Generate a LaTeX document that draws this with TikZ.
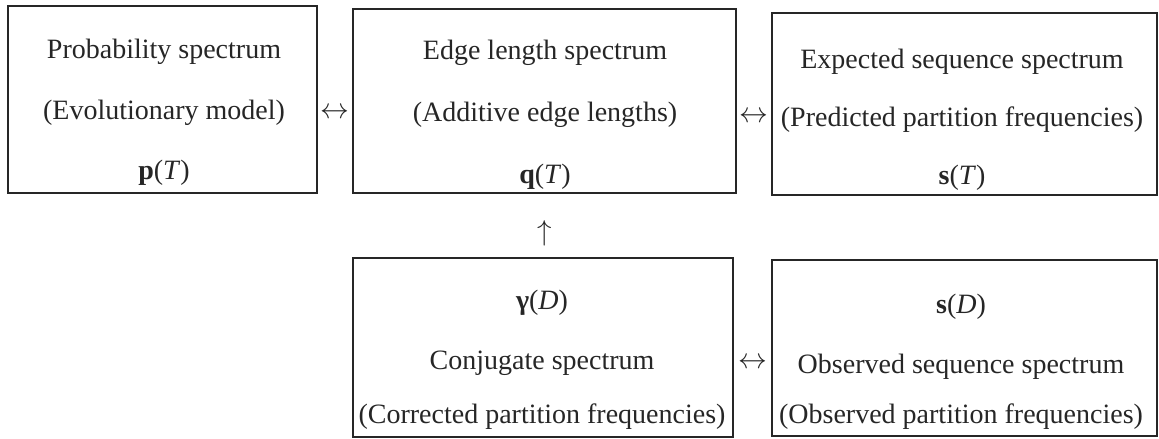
\documentclass[tikz,border=0pt]{standalone}
\usepackage{fontspec}
\setmainfont{Liberation Serif}
\usetikzlibrary{calc}
\begin{document}
\begin{tikzpicture}[x=0.5pt,y=-0.5pt,
  box/.style={draw=black!85,line width=1pt,rectangle,inner sep=0pt},
  txt/.style={font=\fontsize{14}{17}\selectfont,inner sep=0pt,anchor=center,text=black!85},
  sym/.style={font=\fontsize{14}{17}\selectfont,inner sep=0pt,text=black!85}]
\useasboundingbox (0,0) rectangle (1159,438);
% boxes
\node[box,minimum width=154.5pt,minimum height=93.5pt] (b1) at (162.5,99.5) {};
\node[box,minimum width=191.5pt,minimum height=92pt] (b2) at (544.5,101) {};
\node[box,minimum width=192.5pt,minimum height=91pt] (b3) at (964.5,104) {};
\node[box,minimum width=190pt,minimum height=89.5pt] (b4) at (543,347) {};
\node[box,minimum width=192.5pt,minimum height=88pt] (b5) at (964.5,348) {};
% texts
\node[txt] (t11) at (164,52) {Probability spectrum};
\node[txt] (t12) at (164,113) {(Evolutionary model)};
\node[txt] (t13) at (164,173) {\textbf{p}(\textit{T})};
\node[txt] (t21) at (545,53) {Edge length spectrum};
\node[txt] (t22) at (545,115) {(Additive edge lengths)};
\node[txt] (t23) at (545,177) {\textbf{q}(\textit{T})};
\node[txt] (t31) at (962,62) {Expected sequence spectrum};
\node[txt] (t32) at (962,120) {(Predicted partition frequencies)};
\node[txt] (t33) at (962,178) {\textbf{s}(\textit{T})};
\node[txt] (t41) at (542,303) {\textbf{γ}(\textit{D})};
\node[txt] (t42) at (542,363) {Conjugate spectrum};
\node[txt] (t43) at (542,417) {(Corrected partition frequencies)};
\node[txt] (t51) at (961,307) {\textbf{s}(\textit{D})};
\node[txt] (t52) at (961,367) {Observed sequence spectrum};
\node[txt] (t53) at (961,417) {(Observed partition frequencies)};
% symbols between boxes
\node[sym] (a12) at ($(b1.east)!0.5!(b2.west)+(0,13)$) {$\leftrightarrow$};
\node[sym] (a23) at ($(b2.east)!0.5!(b3.west)+(0,15)$) {$\leftrightarrow$};
\node[sym] (a45) at ($(b4.east)!0.5!(b5.west)+(0,16)$) {$\leftrightarrow$};
\node[sym] (a42) at (545,233) {$\uparrow$};
\end{tikzpicture}
\end{document}
